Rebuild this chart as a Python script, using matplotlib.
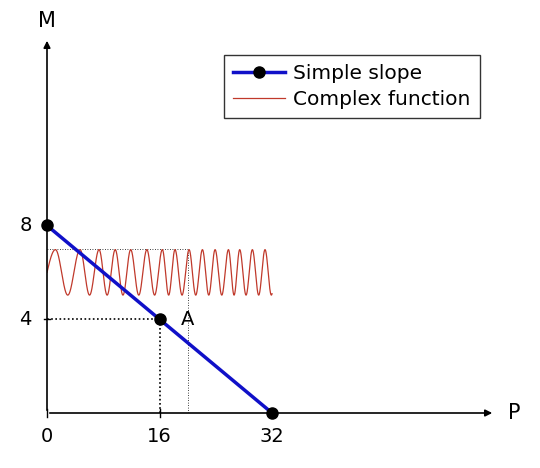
import numpy as np
import matplotlib
matplotlib.use("Agg")
import matplotlib.pyplot as plt

slope_x = [0, 16, 32]
slope_y = [8, 4, 0]
xticks = [0, 16, 32]
yticks = [4, 8]
# x positions of successive peaks of the complex function
peak_x = [1.2, 4.7, 7.4, 9.7, 11.9, 14.2, 16.4, 18.2, 20.2, 22.1, 23.9, 25.8, 27.4, 29.2, 31.0]
wave_center = 6.0
wave_amp = 0.97

fig = plt.figure(figsize=(5.4, 4.68), dpi=100)
ax = fig.add_axes([47/540, 1-413/468, (495-47)/540, (413-38)/468])
ax.set_xlim(0, 63.7)
ax.set_ylim(0, 16)
for s in ax.spines.values():
    s.set_visible(False)
ax.set_xticks([]); ax.set_yticks([])

ax.annotate("", xy=(63.7, 0), xytext=(0, 0), annotation_clip=False,
            arrowprops=dict(arrowstyle="-|>", color="black", lw=1.2, mutation_scale=10))
ax.annotate("", xy=(0, 16), xytext=(0, 0), annotation_clip=False,
            arrowprops=dict(arrowstyle="-|>", color="black", lw=1.2, mutation_scale=10))
ax.text(65.5, 0, "P", fontsize=15, va="center", ha="left")
ax.text(0, 16.3, "M", fontsize=15, va="bottom", ha="center")
for t in xticks:
    ax.plot([t, t], [-0.15, 0.15], color="black", lw=1, clip_on=False)
    ax.text(t, -0.6, str(t), fontsize=14, ha="center", va="top")
for t in yticks:
    ax.plot([-0.4, 0.4], [t, t], color="black", lw=1, clip_on=False)
    ax.text(-2.2, t, str(t), fontsize=14, ha="right", va="center")

ax.plot([0, 16], [4, 4], color="black", lw=1.2, ls=(0, (1, 1.5)))
ax.plot([16, 16], [0, 4], color="black", lw=1.2, ls=(0, (1, 1.5)))
ax.plot([0, 20], [7, 7], color="black", lw=0.6, ls=(0, (1, 2)))
ax.plot([20, 20], [0, 7], color="black", lw=0.6, ls=(0, (1, 2)))

x = np.linspace(0, 32, 2000)
px = np.array([0.0] + peak_x)
ph = np.array([0.75] + [1.0 + i for i in range(len(peak_x))])
phase = np.interp(x, px, ph, right=None)
phase = np.where(x > peak_x[-1], ph[-1] + (x - peak_x[-1]) / 1.8, phase)
y = wave_center + wave_amp * np.sin(2*np.pi*(phase - 0.75))
ax.plot(x, y, color="#c0392b", lw=0.9, label="Complex function")

ax.plot(slope_x, slope_y, color="#1010c8", lw=2.5, marker="o", ms=8,
        mfc="black", mec="black", label="Simple slope", zorder=5, clip_on=False)
ax.text(19.0, 4.0, "A", fontsize=14, ha="left", va="center")

h, l = ax.get_legend_handles_labels()
leg = ax.legend(h[::-1], l[::-1], loc="upper right", bbox_to_anchor=(443/448, 1 - 7/375),
                fontsize=14.5, frameon=True, fancybox=False, edgecolor="black",
                handlelength=2.6, borderpad=0.45, labelspacing=0.35, handletextpad=0.4)
leg.get_frame().set_linewidth(1.0)
fig.savefig("out.png", dpi=100)
